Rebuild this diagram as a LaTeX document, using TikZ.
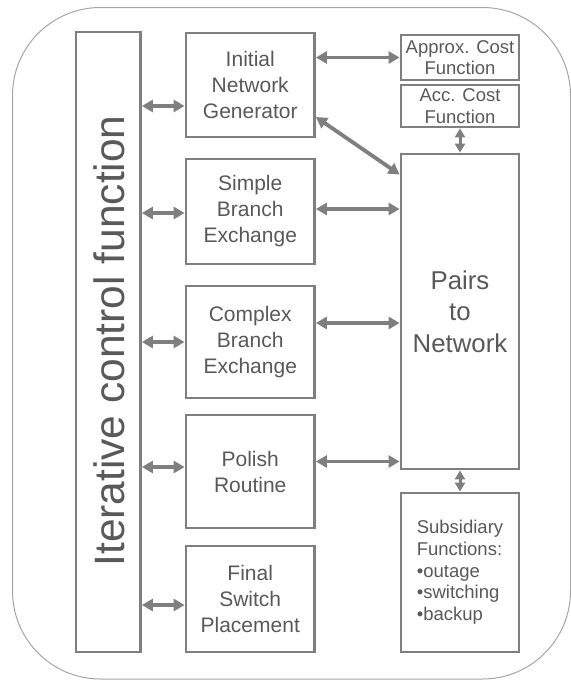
\documentclass[tikz,border=0pt]{standalone}
\usepackage{fontspec}
\setmainfont{Liberation Sans}
\usetikzlibrary{arrows.meta}
\definecolor{boxgray}{HTML}{7F7F7F}
\definecolor{txtgray}{HTML}{595959}
\definecolor{framegray}{HTML}{A6A6A6}
\tikzset{
  box/.style={draw=boxgray, line width=2.8pt, fill=white, inner sep=0pt, outer sep=1.4pt,
    text=txtgray, align=center, font=\fontsize{21}{26}\selectfont},
  smallbox/.style={box, font=\fontsize{18.5}{21.7}\selectfont},
  link/.style={draw=boxgray, line width=3.8pt, {Triangle[length=11pt,width=12pt]}-{Triangle[length=11pt,width=12pt]}},
  shortlink/.style={draw=boxgray, line width=3pt, {Triangle[length=9pt,width=10pt]}-{Triangle[length=9pt,width=10pt]}}
}
\begin{document}
\begin{tikzpicture}[x=1pt,y=-1pt]
\useasboundingbox (0,0) rectangle (571,681);
\fill[white] (0,0) rectangle (571,681);
\draw[framegray, line width=1pt, rounded corners=88pt] (12.5,7.5) rectangle (570.5,679);

\node[box, minimum width=64.5pt, minimum height=620pt] (iter) at (108.25,342) {};
\node[text=txtgray, rotate=90, font=\fontsize{42.5}{50}\selectfont] (itertext) at (109,341) {Iterative control function};

\node[box, minimum width=128.5pt, minimum height=104pt] (init) at (250.25,85) {Initial\\Network\\Generator};
\node[box, minimum width=128.5pt, minimum height=105pt] (simple) at (250.25,211.5) {Simple\\Branch\\Exchange};
\node[box, minimum width=128.5pt, minimum height=112pt] (complex) at (250.25,342) {Complex\\Branch\\Exchange};
\node[box, minimum width=128.5pt, minimum height=113pt] (polish) at (250.25,471.5) {Polish\\Routine};
\node[box, minimum width=128.5pt, minimum height=106pt] (final) at (250.25,599) {Final\\Switch\\Placement};

\node[smallbox, minimum width=118pt, minimum height=45pt] (approx) at (460,57.5) {Approx. Cost\\Function};
\node[smallbox, minimum width=118pt, minimum height=42pt] (acc) at (460,106) {Acc. Cost\\Function};
\node[box, minimum width=118pt, minimum height=315pt, font=\fontsize{25.8}{31.5}\selectfont] (pairs) at (460,311.5) {Pairs\\to\\Network};
\node[smallbox, minimum width=118pt, minimum height=159pt, align=left] (subs) at (460,572.5) {Subsidiary\\Functions:\\•outage\\•switching\\•backup};

% left connectors
\draw[link] ([yshift=-21pt]iter.east |- init.west) -- ([yshift=-21pt]init.west);
\draw[link] ([yshift=-1.5pt]iter.east |- simple.west) -- ([yshift=-1.5pt]simple.west);
\draw[link] (iter.east |- complex.west) -- (complex.west);
\draw[link] ([yshift=4.5pt]iter.east |- polish.west) -- ([yshift=4.5pt]polish.west);
\draw[link] ([yshift=-6pt]iter.east |- final.west) -- ([yshift=-6pt]final.west);

% right connectors
\draw[link] (init.east |- approx.west) -- (approx.west);
\draw[link] ([yshift=-32pt]init.east) -- ([yshift=137pt]pairs.west);
\draw[link] ([yshift=2.5pt]simple.east) -- ([yshift=2.5pt]pairs.west |- simple.east);
\draw[link] ([yshift=19pt]complex.east) -- ([yshift=19pt]pairs.west |- complex.east);
\draw[link] ([yshift=10pt]polish.east) -- ([yshift=10pt]pairs.west |- polish.east);

% short vertical connectors
\draw[shortlink] (acc.south) -- (pairs.north);
\draw[shortlink] (pairs.south) -- (subs.north);
\end{tikzpicture}
\end{document}
